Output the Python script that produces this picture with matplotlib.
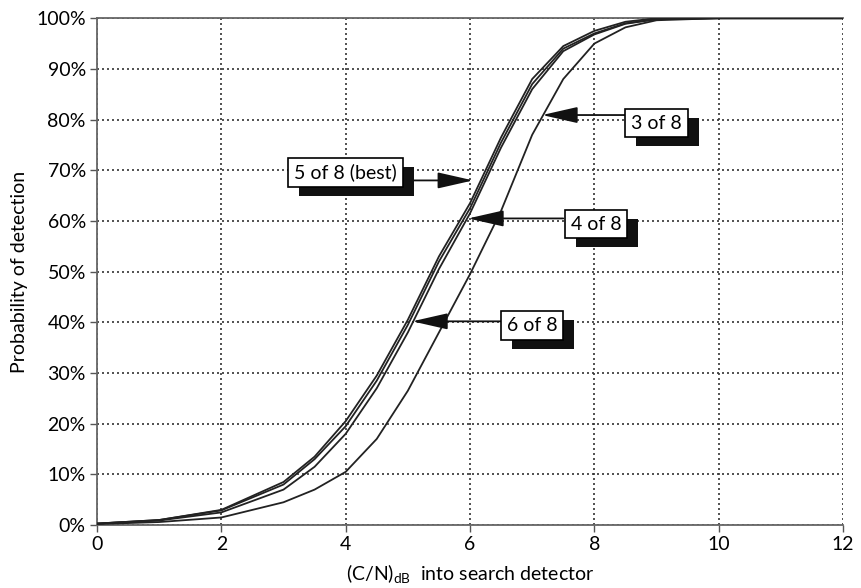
import matplotlib
matplotlib.use("Agg")
import matplotlib.pyplot as plt
from matplotlib.patches import Rectangle
from matplotlib.transforms import IdentityTransform

plt.rcParams['font.family'] = ['Lato', 'DejaVu Sans']
plt.rcParams['mathtext.default'] = 'regular'

# ---- data ----
cn_db = [0, 1, 2, 3, 3.5, 4, 4.5, 5, 5.5, 6, 6.5, 7, 7.5, 8, 8.5, 9, 10, 12]
p_5of8 = [0.3, 1.0, 3.0, 8.5, 13.5, 20.5, 29.5, 40.5, 53.0, 63.5, 76.5, 88.0, 94.5, 97.5, 99.3, 100, 100, 100]
p_4of8 = [0.3, 1.0, 2.9, 8.0, 13.0, 19.5, 28.5, 39.5, 52.0, 62.5, 75.5, 87.0, 94.0, 97.0, 99.0, 99.8, 100, 100]
p_6of8 = [0.3, 0.9, 2.5, 7.0, 11.5, 18.0, 27.0, 38.0, 50.5, 61.5, 74.5, 86.0, 93.5, 96.8, 98.9, 99.8, 100, 100]
p_3of8 = [0.2, 0.6, 1.5, 4.5, 7.0, 10.5, 17.0, 26.5, 38.0, 49.5, 62.0, 77.0, 88.0, 95.0, 98.2, 99.6, 100, 100]

x_ticks = [0, 2, 4, 6, 8, 10, 12]
y_ticks = [0, 10, 20, 30, 40, 50, 60, 70, 80, 90, 100]
y_ticklabels = [f"{v}%" for v in y_ticks]

labels = ["5 of 8 (best)", "3 of 8", "4 of 8", "6 of 8"]
label_pos = [(4.0, 69.6), (9.0, 79.3), (8.03, 59.4), (7.0, 39.4)]
arrow_tip = [(6.05, 68.0), (7.16, 80.9), (5.97, 60.5), (5.07, 40.2)]
arrow_start = [(5.0, 68.0), (8.5, 80.9), (7.5, 60.5), (6.5, 40.2)]

fig = plt.figure(figsize=(8.62, 5.88), dpi=100)
ax = fig.add_axes([0.1125, 0.107, 0.8655, 0.862])

for ys in (p_5of8, p_4of8, p_6of8, p_3of8):
    ax.plot(cn_db, ys, color='#222222', lw=1.3, zorder=3)

ax.set_xlim(0, 12)
ax.set_ylim(0, 100)
ax.set_xticks(x_ticks)
ax.set_yticks(y_ticks)
ax.set_yticklabels(y_ticklabels)
ax.tick_params(labelsize=14, length=5, width=1, color='#555555', direction='out', pad=3)
ax.grid(True, color='#333333', linestyle=(0, (1.2, 1.8)), lw=1.2)
ax.spines['right'].set_visible(False)
for s in ('left', 'bottom', 'top'):
    ax.spines[s].set_color('#666666')
    ax.spines[s].set_linewidth(1.3)

ax.set_ylabel("Probability of detection", fontsize=14, labelpad=6)
ax.set_xlabel("(C/N)$_{dB}$  into search detector", fontsize=14, labelpad=6)

texts = []
for lab, pos, tip, st in zip(labels, label_pos, arrow_tip, arrow_start):
    ax.annotate('', xy=tip, xytext=st,
                arrowprops=dict(arrowstyle='-|>,head_length=1.1,head_width=0.25',
                                mutation_scale=20, color='#111111', lw=1.3,
                                shrinkA=0, shrinkB=0), zorder=5)
    t = ax.text(pos[0], pos[1], lab, fontsize=14, color='black',
                ha='center', va='center', zorder=7,
                bbox=dict(boxstyle='square,pad=0.3', fc='white', ec='black', lw=1.2))
    texts.append(t)

fig.canvas.draw()
for t in texts:
    bb = t.get_bbox_patch().get_window_extent()
    sh = Rectangle((bb.x0 + 11, bb.y0 - 9), bb.width, bb.height,
                   transform=IdentityTransform(), fc='#111111', ec='none',
                   zorder=6, clip_on=False)
    ax.add_artist(sh)

fig.savefig("out.png", dpi=100)
